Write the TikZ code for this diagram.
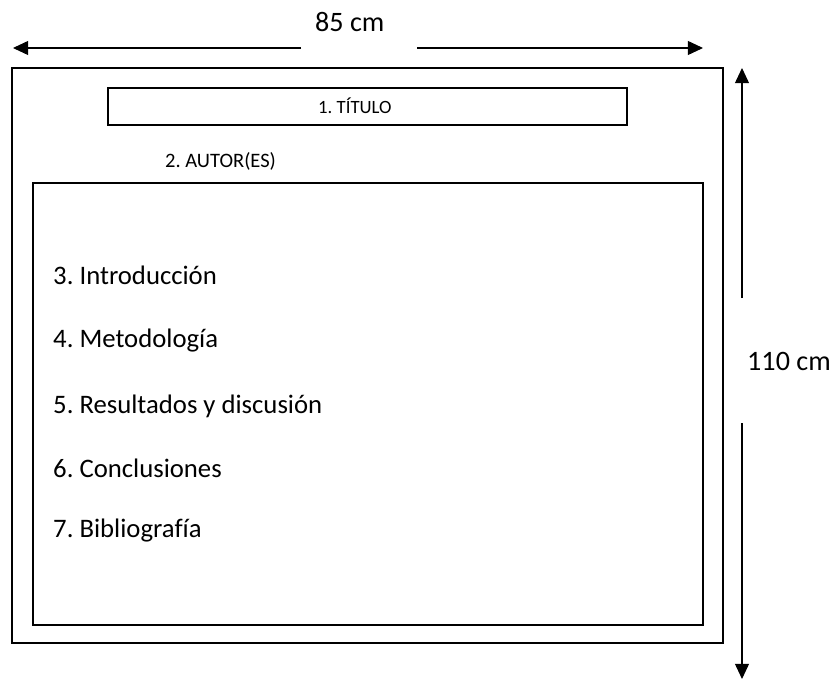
\documentclass[tikz,border=0pt]{standalone}
\usepackage{fontspec}
\setmainfont[Ligatures=NoCommon]{Carlito}
\usetikzlibrary{arrows.meta,positioning}
\frenchspacing

\begin{document}
\begin{tikzpicture}
[
	              x = 0.03cm,
	              y = -0.03cm,
	  frame/.style = { draw=black, line width=1.3pt },
	dimline/.style = { draw=black, line width=0.9pt, -{Triangle[length=13pt,width=12pt]} },
	   item/.style = { anchor=base west, inner sep=0pt, font=\fontsize{22.8}{26}\selectfont },
	  small/.style = { anchor=base west, inner sep=0pt, font=\fontsize{16}{20}\selectfont },
	dimtext/.style = { anchor=base west, inner sep=0pt, font=\fontsize{24}{28}\selectfont }
]
	\useasboundingbox (0,0) rectangle (840,680);

	% poster frames
	\draw [frame] (12,68) rectangle (723,643);
	\draw [frame] (108,88) rectangle (627,125);
	\draw [frame] (33,183) rectangle (703,625);

	% header texts
	\node (titulo) at (318,114) [small]   {1. TÍTULO};
	\node (autor)  at (165,168) [small, font=\fontsize{17.5}{20}\selectfont]   {2. AUTOR(ES)};

	% sections
	\node (intro) at (53,284) [item]   {3. Introducción};
	\node (metod) at (53,347) [item]   {4. Metodología};
	\node (resul) at (53,413) [item]   {5. Resultados y discusión};
	\node (concl) at (53,477) [item]   {6. Conclusiones};
	\node (bibli) at (53,537) [item]   {7. Bibliografía};

	% width
	\node (ancho) at (315,32) [dimtext]   {85 cm};
	\coordinate (wl)  at (13,48);
	\coordinate (wr)  at (703,48);
	\coordinate (wgl) at (301,48);
	\coordinate (wgr) at (417,48);
	\draw [dimline] (wgl) -- (wl);
	\draw [dimline] (wgr) -- (wr);

	% height
	\node (alto) at (747,370) [dimtext]   {110 cm};
	\coordinate (ht)  at (742,68);
	\coordinate (hb)  at (742,679);
	\coordinate (hgt) at (742,298);
	\coordinate (hgb) at (742,423);
	\draw [dimline] (hgt) -- (ht);
	\draw [dimline] (hgb) -- (hb);

\end{tikzpicture}
\end{document}
